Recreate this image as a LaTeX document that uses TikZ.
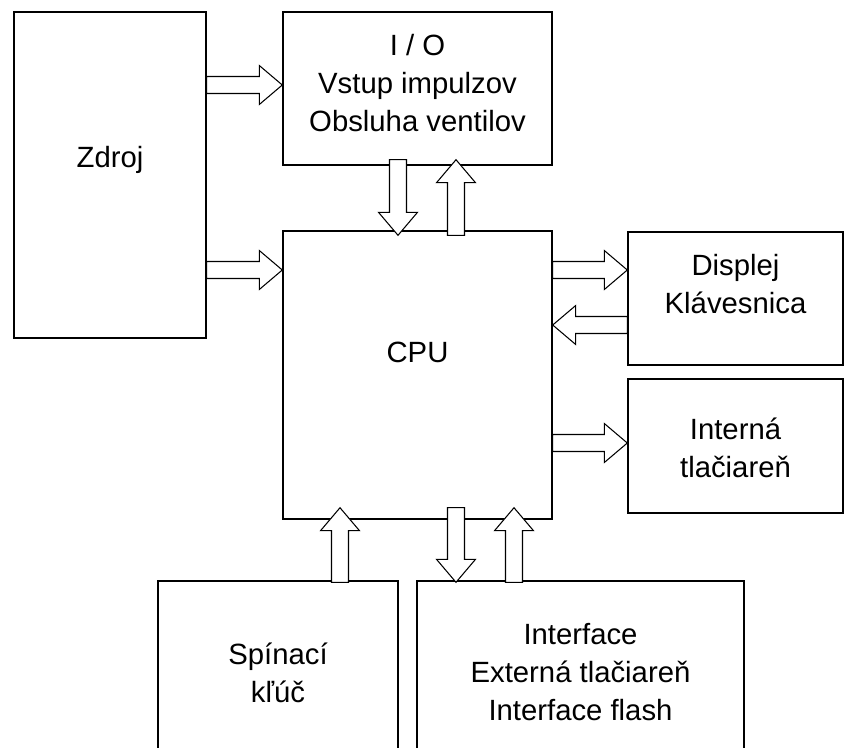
\documentclass[tikz,border=0pt]{standalone}
\usepackage{fontspec}
\setmainfont{Liberation Sans}
\usetikzlibrary{calc,positioning}

\newcommand\shaftw{0.255cm}
\newcommand\headw{0.585cm}
\newcommand\headl{0.69cm}

\tikzset{
  box/.style={draw, line width=1.2pt, inner sep=0pt},
  txt/.style={font=\fontsize{25}{32.4}\selectfont, align=center, inner sep=0pt},
  blockarrow/.style={draw, line width=0.9pt, fill=white, to path={
    ($(\tikztostart)!\shaftw!90:(\tikztotarget)$)
    -- ($($(\tikztotarget)!\headl!(\tikztostart)$)!\shaftw!-90:(\tikztostart)$)
    -- ($($(\tikztotarget)!\headl!(\tikztostart)$)!\headw!-90:(\tikztostart)$)
    -- (\tikztotarget)
    -- ($($(\tikztotarget)!\headl!(\tikztostart)$)!\headw!90:(\tikztostart)$)
    -- ($($(\tikztotarget)!\headl!(\tikztostart)$)!\shaftw!90:(\tikztostart)$)
    -- ($(\tikztostart)!\shaftw!-90:(\tikztotarget)$) -- cycle}}
}

\begin{document}
\begin{tikzpicture}[x=0.03cm, y=-0.03cm]
  \useasboundingbox (0,0) rectangle (844,747);
  \clip (0,0) rectangle (844,747);

  % boxes
  \node[box, minimum width=5.76cm, minimum height=9.78cm] (zdroj) at (110,175) {};
  \node[box, minimum width=8.07cm, minimum height=4.59cm] (io) at (417.5,88.5) {};
  \node[box, minimum width=8.07cm, minimum height=8.64cm] (cpu) at (417.5,375) {};
  \node[box, minimum width=6.45cm, minimum height=3.99cm] (disp) at (735.5,298.5) {};
  \node[box, minimum width=6.45cm, minimum height=4.02cm] (intern) at (735.5,446) {};
  \node[box, minimum width=7.2cm, minimum height=6.57cm] (spin) at (278,690.5) {};
  \node[box, minimum width=9.81cm, minimum height=6.57cm] (iface) at (580.5,690.5) {};

  % texts
  \node[txt] (zdroj-t) at (110,160) {Zdroj};
  \node[txt] (io-t) at (417.5,83) {I / O\\Vstup impulzov\\Obsluha ventilov};
  \node[txt] (cpu-t) at (417.5,352) {CPU};
  \node[txt] (disp-t) at (735.5,284) {Displej\\Klávesnica};
  \node[txt] (intern-t) at (735.5,448) {Interná\\tlačiareň};
  \node[txt] (spin-t) at (278,673) {Spínací\\kľúč};
  \node[txt] (iface-t) at (580.5,672) {Interface\\Externá tlačiareň\\Interface flash};

  % arrows
  \draw[blockarrow] (zdroj.east |- 0,85) to (io.west |- 0,85);
  \draw[blockarrow] (zdroj.east |- 0,270) to (cpu.west |- 0,270);
  \draw[blockarrow] ($(io.south -| 398,0)+(0,-6)$) to ($(cpu.north -| 398,0)+(0,5)$);
  \draw[blockarrow] ($(cpu.north -| 456,0)+(0,5)$) to ($(io.south -| 456,0)+(0,-6)$);
  \draw[blockarrow] (cpu.east |- 0,270) to (disp.west |- 0,270);
  \draw[blockarrow] (disp.west |- 0,325) to (cpu.east |- 0,325);
  \draw[blockarrow] (cpu.east |- 0,443) to (intern.west |- 0,443);
  \draw[blockarrow] ($(spin.north -| 340,0)+(0,2)$) to ($(cpu.south -| 340,0)+(0,-12)$);
  \draw[blockarrow] ($(cpu.south -| 456,0)+(0,-12)$) to ($(iface.north -| 456,0)+(0,2)$);
  \draw[blockarrow] ($(iface.north -| 514,0)+(0,2)$) to ($(cpu.south -| 514,0)+(0,-12)$);
\end{tikzpicture}
\end{document}
